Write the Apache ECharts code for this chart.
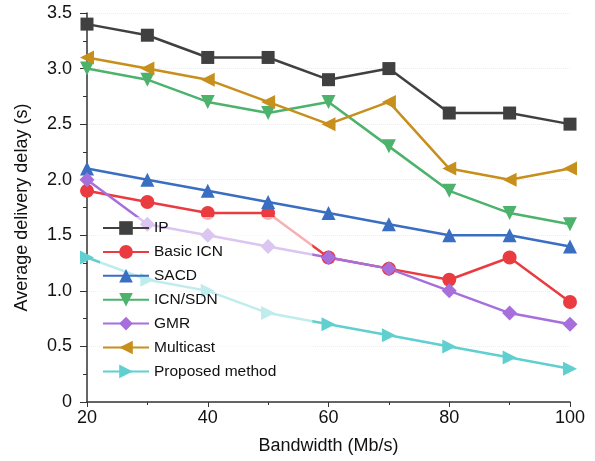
<!DOCTYPE html>
<html>
<head>
<meta charset="utf-8">
<script src="https://cdn.jsdelivr.net/npm/echarts@6/dist/echarts.min.js"></script>
<style>
  html, body { margin: 0; padding: 0; background: #fff; }
  #chart { width: 595px; height: 461px; }
</style>
</head>
<body>
<div id="chart"></div>
<script>
var bandwidth = [20, 30, 40, 50, 60, 70, 80, 90, 100];
var seriesNames = ['IP', 'Basic ICN', 'SACD', 'ICN/SDN', 'GMR', 'Multicast', 'Proposed method'];
var ipDelay = [3.4, 3.3, 3.1, 3.1, 2.9, 3.0, 2.6, 2.6, 2.5];
var basicIcnDelay = [1.9, 1.8, 1.7, 1.7, 1.3, 1.2, 1.1, 1.3, 0.9];
var sacdDelay = [2.1, 2.0, 1.9, 1.8, 1.7, 1.6, 1.5, 1.5, 1.4];
var icnSdnDelay = [3.0, 2.9, 2.7, 2.6, 2.7, 2.3, 1.9, 1.7, 1.6];
var gmrDelay = [2.0, 1.6, 1.5, 1.4, 1.3, 1.2, 1.0, 0.8, 0.7];
var multicastDelay = [3.1, 3.0, 2.9, 2.7, 2.5, 2.7, 2.1, 2.0, 2.1];
var proposedDelay = [1.3, 1.1, 1.0, 0.8, 0.7, 0.6, 0.5, 0.4, 0.3];

var allValues = [ipDelay, basicIcnDelay, sacdDelay, icnSdnDelay, gmrDelay, multicastDelay, proposedDelay];
var colors = ['#404040', '#ea3b40', '#3a6ec2', '#4cb26c', '#a66fdc', '#c78f1c', '#5fd0cf'];
var symbols = ['rect', 'circle', 'triangle', 'triangle', 'diamond', 'triangle', 'triangle'];
var rotations = [0, 0, 0, 180, 0, 90, -90];
var sizes = [13, 14, 14, 14, 15, 14, 14];

function pairs(values) {
  var out = [];
  for (var i = 0; i < values.length; i++) {
    out.push([bandwidth[i], values[i]]);
  }
  return out;
}

var series = [];
for (var i = 0; i < seriesNames.length; i++) {
  series.push({
    name: seriesNames[i],
    type: 'line',
    data: pairs(allValues[i]),
    symbol: symbols[i],
    symbolRotate: rotations[i],
    symbolSize: sizes[i],
    lineStyle: { color: colors[i], width: 2.5 },
    itemStyle: { color: colors[i] },
    z: 2
  });
}

var font = 'Liberation Sans, Arial, sans-serif';
var nameText = { color: '#111', fontSize: 18, fontFamily: font };

var option = {
  animation: false,
  backgroundColor: '#fff',
  grid: { left: 87, right: 25, top: 13, bottom: 59 },
  legend: {
    orient: 'vertical',
    left: 100,
    top: 217,
    padding: [3, 36, 3, 2],
    itemWidth: 46,
    itemHeight: 17,
    itemGap: 7.9,
    backgroundColor: 'rgba(255,255,255,0.6)',
    z: 6,
    textStyle: { fontSize: 15.5, color: '#111', fontFamily: font },
    data: seriesNames
  },
  xAxis: {
    type: 'value',
    min: 20,
    max: 100,
    interval: 20,
    name: 'Bandwidth (Mb/s)',
    nameLocation: 'middle',
    nameGap: 35,
    nameTextStyle: nameText,
    axisLine: { lineStyle: { color: '#333', width: 1.5 } },
    axisTick: { length: 5, lineStyle: { color: '#333' } },
    minorTick: { show: true, splitNumber: 2, length: 3, lineStyle: { color: '#333' } },
    axisLabel: { color: '#111', fontSize: 18, fontFamily: font, margin: 7 },
    splitLine: { show: false }
  },
  yAxis: {
    type: 'value',
    min: 0,
    max: 3.5,
    interval: 0.5,
    name: 'Average delivery delay (s)',
    nameLocation: 'middle',
    nameGap: 56,
    nameTextStyle: nameText,
    axisLine: { show: true, lineStyle: { color: '#333', width: 1.5 } },
    axisTick: { show: true, length: 7, lineStyle: { color: '#333' } },
    minorTick: { show: true, splitNumber: 2, length: 4, lineStyle: { color: '#333' } },
    axisLabel: {
      color: '#111', fontSize: 18, fontFamily: font, margin: 15,
      formatter: function (v) { return v === 0 ? '0' : v.toFixed(1); }
    },
    splitLine: { show: true, lineStyle: { color: '#ececec', type: 'dotted', width: 1 } }
  },
  series: series
};

var chart = echarts.init(document.getElementById('chart'));
chart.setOption(option);
</script>
</body>
</html>
